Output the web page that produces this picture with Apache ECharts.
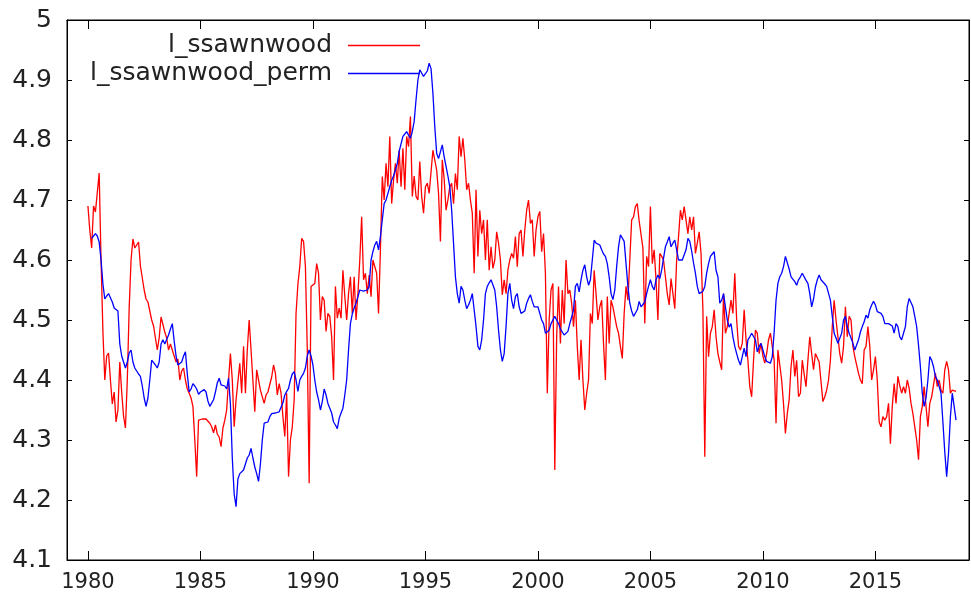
<!DOCTYPE html>
<html>
<head>
<meta charset="utf-8">
<title>l_ssawnwood</title>
<script src="https://cdn.jsdelivr.net/npm/echarts@6.0.0/dist/echarts.min.js"></script>
<style>
  html, body { margin: 0; padding: 0; background: #ffffff; }
  #chart { width: 971px; height: 606px; }
</style>
</head>
<body>
<div id="chart"></div>
<script>
// monthly data, first value = Jan 1980
const startYear = 1980;

const ssawnwood = [
  4.69, 4.65, 4.62, 4.69, 4.68, 4.68, 4.745, 4.60, 4.48, 4.40, 4.44, 4.445,
  4.40, 4.36, 4.38, 4.33, 4.35, 4.43, 4.38, 4.34, 4.32, 4.40, 4.52, 4.60,
  4.635, 4.62, 4.625, 4.63, 4.59, 4.57, 4.55, 4.535, 4.53, 4.515, 4.50, 4.49,
  4.47, 4.45, 4.47, 4.505, 4.506, 4.48, 4.47, 4.45, 4.46, 4.45, 4.44, 4.43,
  4.435, 4.40, 4.415, 4.42, 4.40, 4.385, 4.378, 4.37, 4.356, 4.30, 4.239, 4.333,
  4.335, 4.335, 4.333, 4.335, 4.333, 4.328, 4.322, 4.312, 4.325, 4.31, 4.305, 4.289,
  4.32, 4.333, 4.35, 4.40, 4.444, 4.40, 4.322, 4.367, 4.37, 4.428, 4.378, 4.456,
  4.378, 4.45, 4.50, 4.45, 4.45, 4.347, 4.417, 4.414, 4.383, 4.383, 4.361, 4.375,
  4.38, 4.383, 4.405, 4.425, 4.411, 4.375, 4.394, 4.378, 4.339, 4.306, 4.378, 4.239,
  4.30, 4.322, 4.367, 4.511, 4.56, 4.589, 4.636, 4.631, 4.589, 4.45, 4.228, 4.556,
  4.553, 4.561, 4.594, 4.578, 4.50, 4.539, 4.533, 4.481, 4.511, 4.506, 4.472, 4.40,
  4.556, 4.503, 4.52, 4.503, 4.583, 4.54, 4.50, 4.544, 4.572, 4.511, 4.572, 4.50,
  4.544, 4.60, 4.672, 4.567, 4.578, 4.544, 4.575, 4.539, 4.60, 4.597, 4.578, 4.511,
  4.617, 4.739, 4.70, 4.761, 4.722, 4.806, 4.694, 4.733, 4.761, 4.728, 4.783, 4.722,
  4.786, 4.717, 4.806, 4.789, 4.839, 4.706, 4.74, 4.706, 4.70, 4.764, 4.706, 4.678,
  4.722, 4.728, 4.711, 4.711, 4.783, 4.781, 4.75, 4.711, 4.631, 4.767, 4.735, 4.683,
  4.70, 4.722, 4.728, 4.694, 4.744, 4.717, 4.806, 4.772, 4.803, 4.767, 4.717, 4.728,
  4.70, 4.678, 4.578, 4.717, 4.606, 4.683, 4.644, 4.667, 4.60, 4.667, 4.583, 4.622,
  4.586, 4.60, 4.647, 4.628, 4.60, 4.542, 4.567, 4.544, 4.583, 4.60, 4.611, 4.603,
  4.639, 4.589, 4.644, 4.65, 4.606, 4.65, 4.683, 4.70, 4.661, 4.667, 4.606, 4.65,
  4.672, 4.681, 4.614, 4.644, 4.578, 4.378, 4.50, 4.55, 4.561, 4.25, 4.472, 4.556,
  4.461, 4.55, 4.494, 4.60, 4.544, 4.55, 4.528, 4.489, 4.533, 4.456, 4.40, 4.467,
  4.40, 4.35, 4.378, 4.40, 4.511, 4.494, 4.583, 4.544, 4.50, 4.522, 4.533, 4.46,
  4.40, 4.539, 4.461, 4.533, 4.522, 4.519, 4.489, 4.478, 4.456, 4.436, 4.511, 4.556,
  4.533, 4.60, 4.667, 4.672, 4.689, 4.694, 4.665, 4.667, 4.62, 4.494, 4.606, 4.589,
  4.689, 4.594, 4.617, 4.567, 4.50, 4.611, 4.606, 4.60, 4.572, 4.544, 4.525, 4.569,
  4.544, 4.519, 4.60, 4.639, 4.683, 4.667, 4.689, 4.689, 4.644, 4.672, 4.65, 4.672,
  4.611, 4.628, 4.647, 4.611, 4.517, 4.272, 4.506, 4.439, 4.478, 4.489, 4.517, 4.472,
  4.444, 4.43, 4.417, 4.544, 4.478, 4.489, 4.49, 4.533, 4.511, 4.578, 4.50, 4.456,
  4.45, 4.461, 4.517, 4.467, 4.433, 4.389, 4.372, 4.433, 4.483, 4.478, 4.444, 4.461,
  4.44, 4.428, 4.444, 4.467, 4.478, 4.478, 4.433, 4.328, 4.45, 4.45, 4.40, 4.36,
  4.311, 4.344, 4.367, 4.422, 4.45, 4.406, 4.433, 4.372, 4.378, 4.433, 4.41, 4.389,
  4.433, 4.472, 4.444, 4.417, 4.444, 4.442, 4.43, 4.433, 4.364, 4.372, 4.383, 4.40,
  4.433, 4.489, 4.533, 4.50, 4.472, 4.444, 4.428, 4.456, 4.522, 4.472, 4.506, 4.50,
  4.456, 4.439, 4.439, 4.411, 4.40, 4.394, 4.45, 4.456, 4.489, 4.456, 4.40, 4.417,
  4.439, 4.40, 4.33, 4.322, 4.339, 4.333, 4.339, 4.361, 4.294, 4.356, 4.394, 4.361,
  4.406, 4.39, 4.378, 4.389, 4.378, 4.40, 4.386, 4.361, 4.344, 4.322, 4.30, 4.267,
  4.339, 4.356, 4.389, 4.356, 4.322, 4.361, 4.372, 4.392, 4.411, 4.389, 4.40, 4.383,
  4.378, 4.417, 4.431, 4.417, 4.378, 4.383, 4.386, 4.381
];

// the filtered series begins two months later
const ssawnwoodPerm = [
  null, null, 4.636, 4.64, 4.644, 4.64, 4.63, 4.60, 4.56, 4.535, 4.54, 4.544,
  4.545, 4.53, 4.52, 4.52, 4.515, 4.46, 4.44, 4.43, 4.42, 4.43, 4.445, 4.45,
  4.43, 4.42, 4.415, 4.41, 4.406, 4.39, 4.37, 4.356, 4.37, 4.40, 4.433, 4.435,
  4.425, 4.42, 4.43, 4.46, 4.467, 4.46, 4.46, 4.475, 4.485, 4.494, 4.465, 4.44,
  4.425, 4.422, 4.43, 4.44, 4.447, 4.41, 4.38, 4.385, 4.394, 4.39, 4.385, 4.376,
  4.38, 4.383, 4.384, 4.38, 4.365, 4.356, 4.353, 4.367, 4.38, 4.395, 4.403, 4.392,
  4.394, 4.39, 4.385, 4.403, 4.36, 4.27, 4.21, 4.189, 4.235, 4.244, 4.242, 4.25,
  4.26, 4.27, 4.275, 4.286, 4.27, 4.255, 4.244, 4.231, 4.26, 4.30, 4.328, 4.327,
  4.33, 4.339, 4.344, 4.344, 4.345, 4.347, 4.347, 4.35, 4.362, 4.375, 4.381, 4.386,
  4.40, 4.41, 4.414, 4.40, 4.381, 4.40, 4.406, 4.411, 4.42, 4.44, 4.45, 4.44,
  4.425, 4.40, 4.38, 4.367, 4.35, 4.364, 4.385, 4.375, 4.361, 4.361, 4.345, 4.33,
  4.325, 4.319, 4.336, 4.345, 4.353, 4.375, 4.40, 4.45, 4.494, 4.51, 4.52, 4.528,
  4.539, 4.55, 4.55, 4.548, 4.547, 4.55, 4.556, 4.60, 4.614, 4.625, 4.631, 4.617,
  4.639, 4.667, 4.694, 4.70, 4.711, 4.722, 4.733, 4.74, 4.75, 4.761, 4.781, 4.781,
  4.806, 4.81, 4.814, 4.808, 4.803, 4.814, 4.831, 4.867, 4.90, 4.917, 4.92, 4.906,
  4.908, 4.915, 4.928, 4.919, 4.878, 4.822, 4.778, 4.769, 4.772, 4.792, 4.772, 4.756,
  4.74, 4.722, 4.683, 4.628, 4.572, 4.544, 4.528, 4.556, 4.55, 4.533, 4.519, 4.525,
  4.533, 4.544, 4.517, 4.489, 4.456, 4.45, 4.467, 4.50, 4.544, 4.556, 4.562, 4.567,
  4.569, 4.55, 4.522, 4.483, 4.45, 4.431, 4.444, 4.489, 4.544, 4.561, 4.533, 4.519,
  4.539, 4.544, 4.522, 4.511, 4.508, 4.515, 4.528, 4.536, 4.542, 4.531, 4.522, 4.522,
  4.522, 4.511, 4.50, 4.494, 4.478, 4.478, 4.483, 4.494, 4.50, 4.506, 4.50, 4.494,
  4.485, 4.483, 4.475, 4.475, 4.481, 4.494, 4.505, 4.517, 4.556, 4.561, 4.547, 4.567,
  4.583, 4.592, 4.572, 4.558, 4.567, 4.60, 4.633, 4.628, 4.631, 4.625, 4.617, 4.61,
  4.606, 4.594, 4.572, 4.544, 4.534, 4.55, 4.589, 4.622, 4.642, 4.644, 4.631, 4.594,
  4.556, 4.528, 4.515, 4.506, 4.506, 4.517, 4.531, 4.522, 4.522, 4.53, 4.544, 4.556,
  4.567, 4.556, 4.55, 4.567, 4.575, 4.569, 4.583, 4.603, 4.622, 4.63, 4.639, 4.622,
  4.628, 4.633, 4.617, 4.60, 4.60, 4.60, 4.60, 4.617, 4.636, 4.631, 4.615, 4.595,
  4.578, 4.556, 4.544, 4.542, 4.548, 4.556, 4.578, 4.594, 4.606, 4.61, 4.614, 4.583,
  4.572, 4.528, 4.533, 4.544, 4.522, 4.50, 4.488, 4.494, 4.472, 4.456, 4.444, 4.433,
  4.425, 4.439, 4.453, 4.439, 4.467, 4.472, 4.478, 4.478, 4.467, 4.447, 4.456, 4.461,
  4.45, 4.439, 4.431, 4.428, 4.428, 4.439, 4.48, 4.533, 4.561, 4.572, 4.578, 4.589,
  4.606, 4.603, 4.585, 4.572, 4.569, 4.564, 4.558, 4.567, 4.572, 4.578, 4.575, 4.566,
  4.561, 4.544, 4.522, 4.535, 4.555, 4.567, 4.575, 4.567, 4.567, 4.56, 4.556, 4.556,
  4.533, 4.506, 4.478, 4.47, 4.461, 4.461, 4.478, 4.50, 4.506, 4.489, 4.478, 4.47,
  4.461, 4.45, 4.447, 4.467, 4.48, 4.489, 4.497, 4.508, 4.503, 4.517, 4.525, 4.531,
  4.525, 4.514, 4.511, 4.511, 4.506, 4.494, 4.492, 4.494, 4.494, 4.49, 4.478, 4.494,
  4.489, 4.472, 4.467, 4.464, 4.489, 4.522, 4.536, 4.539, 4.522, 4.506, 4.489, 4.458,
  4.422, 4.378, 4.356, 4.37, 4.40, 4.439, 4.433, 4.422, 4.406, 4.40, 4.389, 4.378,
  4.33, 4.28, 4.239, 4.278, 4.339, 4.378, 4.356, 4.333
];

const yearTicks = [1980, 1985, 1990, 1995, 2000, 2005, 2010, 2015];
const yearMin = 1979.07;
const yearMax = 2019.16;
const valueMin = 4.1;
const valueMax = 5;
const valueStep = 0.1;

function toPairs(values) {
  return values.map((v, i) => [startYear + i / 12, v]);
}

const font = 'DejaVu Sans';
const textColor = '#222';

const chart = echarts.init(document.getElementById('chart'), null, { renderer: 'canvas' });

const xCommon = {
  type: 'value',
  min: yearMin,
  max: yearMax,
  axisLine: { show: true, lineStyle: { color: '#000', width: 1 } },
  axisTick: { show: true, inside: true, length: 9, customValues: yearTicks, lineStyle: { color: '#000' } },
  splitLine: { show: false }
};
const yCommon = {
  type: 'value',
  min: valueMin,
  max: valueMax,
  interval: valueStep,
  axisLine: { show: true, lineStyle: { color: '#000', width: 1 } },
  axisTick: { show: true, inside: true, length: 5, lineStyle: { color: '#000' } },
  splitLine: { show: false }
};

const option = {
  animation: false,
  backgroundColor: '#ffffff',
  grid: {
    left: 67, right: 2, top: 20, bottom: 46,
    show: true, borderColor: '#000', borderWidth: 1
  },
  legend: [
    {
      data: ['l_ssawnwood'],
      right: 551, top: 33, padding: 0,
      align: 'right',
      icon: 'rect', itemWidth: 72, itemHeight: 1.5,
      textStyle: { fontFamily: font, fontSize: 25, color: textColor, padding: [0, 11, 0, 0] }
    },
    {
      data: ['l_ssawnwood_perm'],
      right: 551, top: 61, padding: 0,
      align: 'right',
      icon: 'rect', itemWidth: 72, itemHeight: 1.5,
      textStyle: { fontFamily: font, fontSize: 25, color: textColor, padding: [0, 11, 0, 0] }
    }
  ],
  xAxis: [
    Object.assign({}, xCommon, {
      position: 'bottom',
      axisLabel: {
        customValues: yearTicks, margin: 12,
        fontFamily: font, fontSize: 21, color: textColor,
        formatter: (v) => String(v)
      }
    }),
    Object.assign({}, xCommon, { position: 'top', axisLabel: { show: false } })
  ],
  yAxis: [
    Object.assign({}, yCommon, {
      position: 'left',
      axisLabel: { margin: 15, fontFamily: font, fontSize: 25, color: textColor }
    }),
    Object.assign({}, yCommon, { position: 'right', axisLabel: { show: false } })
  ],
  series: [
    {
      name: 'l_ssawnwood',
      type: 'line',
      data: toPairs(ssawnwood),
      showSymbol: false,
      symbol: 'none',
      color: '#ff0000',
      lineStyle: { color: '#ff0000', width: 1.3 },
      z: 2
    },
    {
      name: 'l_ssawnwood_perm',
      type: 'line',
      data: toPairs(ssawnwoodPerm),
      showSymbol: false,
      symbol: 'none',
      color: '#0000ff',
      lineStyle: { color: '#0000ff', width: 1.3 },
      z: 3
    }
  ]
};

chart.setOption(option);
</script>
</body>
</html>
